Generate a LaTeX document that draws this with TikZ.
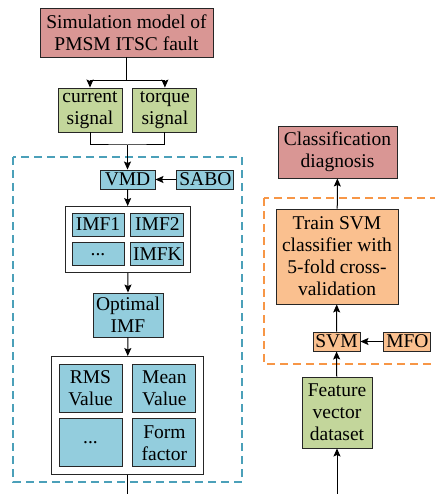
\documentclass[tikz,border=0pt]{standalone}
\usepackage{fontspec}
\setmainfont{Liberation Serif}
\newfontfamily\boxfont{Liberation Serif}
\usetikzlibrary{arrows.meta, positioning, fit}
\definecolor{simred}{RGB}{217,150,148}
\definecolor{siggreen}{RGB}{195,214,155}
\definecolor{vmdblue}{RGB}{147,205,221}
\definecolor{svmorange}{RGB}{250,192,143}
\definecolor{dashblue}{RGB}{75,160,185}
\definecolor{dashorange}{RGB}{247,150,70}
\tikzset{box/.style={rectangle,draw=black!85,line width=0.9pt,align=center,inner sep=0pt,font=\boxfont\fontsize{19.5}{22}\selectfont},redbox/.style={box,fill=simred},greenbox/.style={box,fill=siggreen},bluebox/.style={box,fill=vmdblue},orangebox/.style={box,fill=svmorange},frame/.style={rectangle,draw=black!85,line width=1pt},line/.style={-{Stealth[length=8pt,width=7pt,inset=1.5pt]},line width=1pt},bluedash/.style={draw=dashblue,line width=1.3pt,dash pattern=on 8pt off 5pt},orangedash/.style={draw=dashorange,line width=1.3pt,dash pattern=on 8pt off 5pt}}

\begin{document}
\begin{tikzpicture}[x=1pt,y=-1pt]
\useasboundingbox (0,0) rectangle (435,494);
\draw[bluedash] (13,157) rectangle (242,482);
\draw[orangedash] (264,198) rectangle (445,364);
% left chain
\node[redbox, minimum width=173pt, minimum height=49pt] (sim) at (126.5,32.5) {Simulation model of\\PMSM ITSC fault};
\node[greenbox, minimum width=64pt, minimum height=44pt] (cur) at (90,110) {current\\signal};
\node[greenbox, minimum width=64pt, minimum height=44pt, right=10pt of cur] (torque) {torque\\signal};
\node[bluebox, minimum width=55pt, minimum height=19pt] (vmd) at (127.5,179.5) {VMD};
\node[bluebox, minimum width=57pt, minimum height=19pt, right=21pt of vmd] (sabo) {SABO};
\node[bluebox, minimum width=52pt, minimum height=23pt] (imf1) at (98,224.5) {IMF1};
\node[bluebox, minimum width=53pt, minimum height=23pt, right=6pt of imf1] (imf2) {IMF2};
\node[bluebox, minimum width=52pt, minimum height=23pt, below=6pt of imf1] (imfdots) {...};
\node[bluebox, minimum width=53pt, minimum height=23pt, below=6pt of imf2] (imfk) {IMFK};
\node[frame, inner sep=6pt, fit=(imf1)(imfk)] (imfbox) {};
\node[bluebox, minimum width=70pt, minimum height=44pt] (opt) at (128,315) {Optimal\\IMF};
\node[bluebox, minimum width=63pt, minimum height=48pt] (rms) at (90.5,388) {RMS\\Value};
\node[bluebox, minimum width=63pt, minimum height=48pt, right=10pt of rms] (mean) {Mean\\Value};
\node[bluebox, minimum width=63pt, minimum height=48pt, below=6pt of rms] (featdots) {...};
\node[bluebox, minimum width=63pt, minimum height=48pt, below=6pt of mean] (form) {Form\\factor};
\node[frame, inner sep=7pt, fit=(rms)(form)] (featbox) {};
% right chain
\node[redbox, minimum width=119pt, minimum height=52pt] (cls) at (337.5,152) {Classification\\diagnosis};
\node[orangebox, minimum width=122pt, minimum height=95pt] (train) at (337,256.5) {Train SVM\\classifier with\\5-fold cross-\\validation};
\node[orangebox, minimum width=47pt, minimum height=19pt] (svm) at (336.5,341.5) {SVM};
\node[orangebox, minimum width=47pt, minimum height=19pt, right=23pt of svm] (mfo) {MFO};
\node[greenbox, minimum width=70pt, minimum height=71pt] (fvec) at (337,412.5) {Feature\\vector\\dataset};
\coordinate (split) at ([yshift=-23pt]sim.south);
\coordinate (join) at (vmd.north |- 0,145);
\coordinate (leftout) at (featbox.south |- 0,494);
\coordinate (rightin) at (fvec.south |- 0,494);
\draw[line width=1pt] (sim.south) -- (split);
\draw[line] (split) -| (cur.north);
\draw[line] (split) -| (torque.north);
\draw[line width=1pt] (cur.south) |- (join) -| (torque.south);
\draw[line] (join) -- (vmd.north);
\draw[line] (sabo) -- (vmd);
\draw[line] (vmd) -- (imfbox);
\draw[line] (imfbox) -- (opt);
\draw[line] (opt) -- (featbox);
\draw[line width=1pt] (featbox) -- (leftout);
\draw[line] (rightin) -- (fvec);
\draw[line] (fvec) -- (svm);
\draw[line] (mfo) -- (svm);
\draw[line] (svm) -- (train);
\draw[line] (train) -- (cls);
\end{tikzpicture}
\end{document}
